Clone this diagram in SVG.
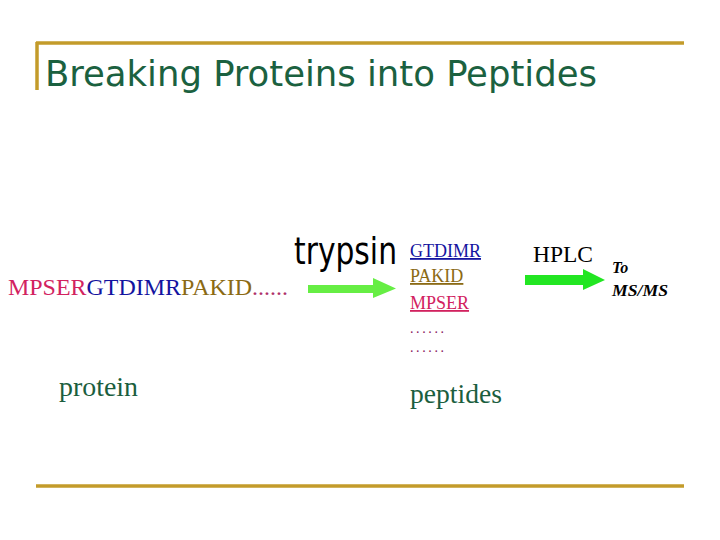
<svg xmlns="http://www.w3.org/2000/svg" width="720" height="540" viewBox="0 0 720 540">
<style>
.rule{stroke:#C39B2A;stroke-width:3.5;fill:none}
.t{font-family:"Liberation Serif","Times New Roman",serif}
.green{fill:#1B5E3E}
.u{text-decoration:underline}
.arrow1{fill:#66EE44}
.arrow2{fill:#22E622}
</style>
<rect width="720" height="540" fill="#FFFFFF"/>
<g id="frame">
<line class="rule" x1="36" y1="43" x2="684" y2="43"/>
<line class="rule" x1="37" y1="42" x2="37" y2="90" stroke-width="2.5"/>
<line class="rule" x1="36" y1="486" x2="684" y2="486"/>
</g>
<g id="title">
<text x="45" y="86" font-family="'DejaVu Sans Condensed','Liberation Sans',sans-serif" font-size="35" fill="#1B6140" textLength="552" lengthAdjust="spacingAndGlyphs">Breaking Proteins into Peptides</text>
</g>
<g id="protein">
<text class="t" x="8" y="295" font-size="24" textLength="280" lengthAdjust="spacingAndGlyphs"><tspan fill="#D2225F">MPSER</tspan><tspan fill="#1414A0">GTDIMR</tspan><tspan fill="#8B6A14">PAKID</tspan><tspan fill="#B0306A">......</tspan></text>
<text class="t green" x="59" y="396" font-size="27" textLength="79" lengthAdjust="spacingAndGlyphs">protein</text>
</g>
<g id="trypsin">
<text x="294" y="264" font-family="'DejaVu Sans Condensed','Liberation Sans',sans-serif" font-size="38" fill="#000000" textLength="103" lengthAdjust="spacingAndGlyphs">trypsin</text>
</g>
<g id="peptides">
<text class="t u" x="410" y="257" font-size="18" fill="#1414A0">GTDIMR</text>
<text class="t u" x="410" y="282" font-size="18" fill="#8B6A14">PAKID</text>
<text class="t u" x="410" y="309" font-size="18" fill="#D2225F">MPSER</text>
<text class="t" x="410" y="333" font-size="14" fill="#8A2060" textLength="34" lengthAdjust="spacing">......</text>
<text class="t" x="410" y="352" font-size="14" fill="#8A2060" textLength="34" lengthAdjust="spacing">......</text>
<text class="t green" x="410" y="403" font-size="27" textLength="92" lengthAdjust="spacingAndGlyphs">peptides</text>
</g>
<g id="hplc">
<text class="t" x="533" y="262" font-size="24" fill="#000000" textLength="60" lengthAdjust="spacingAndGlyphs">HPLC</text>
</g>
<g id="msms">
<text class="t" x="612" y="273" font-size="16" font-weight="bold" font-style="italic" fill="#000000">To</text>
<text class="t" x="612" y="296" font-size="17" font-weight="bold" font-style="italic" fill="#000000" textLength="56" lengthAdjust="spacingAndGlyphs">MS/MS</text>
</g>
<g id="connectors">
<polygon class="arrow1" points="308,285 373,285 373,278 396,288.5 373,298 373,293 308,293"/>
<polygon class="arrow2" points="525,275 583,275 583,269 605,280 583,290 583,285 525,285"/>
</g>
</svg>
